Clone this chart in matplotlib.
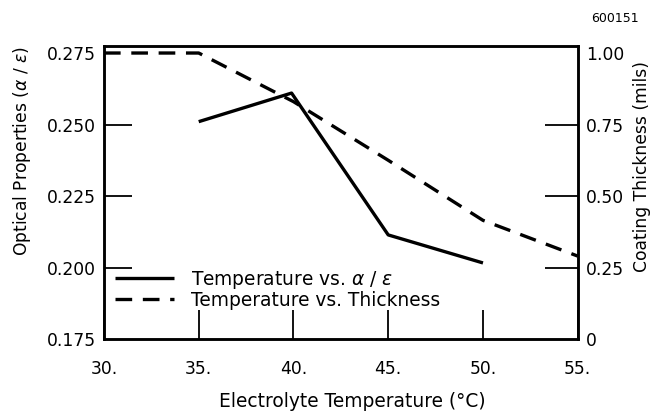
import matplotlib.pyplot as plt

plt.rcParams['font.family'] = ['DejaVu Sans']
plt.rcParams['mathtext.fontset'] = 'dejavusans'

# Dados
temp_opt = [35, 39.9, 45, 50]
alpha_eps = [0.251, 0.261, 0.2114, 0.2016]

temp_esp = [30, 35, 40, 45, 50, 55]
espessura = [1.00, 1.00, 0.83, 0.625, 0.415, 0.29]

x_ticks = [30, 35, 40, 45, 50, 55]
x_labels = ['30.', '35.', '40.', '45.', '50.', '55.']
y_ticks = [0.175, 0.200, 0.225, 0.250, 0.275]
y_labels = ['0.175', '0.200', '0.225', '0.250', '0.275']
y2_ticks = [0, 0.25, 0.50, 0.75, 1.00]
y2_labels = ['0', '0.25', '0.50', '0.75', '1.00']

fs = 12.3      # números dos eixos
fs_lab = 13.4  # título do eixo x e legenda

fig = plt.figure(figsize=(6.58, 4.17), dpi=100)
ax = fig.add_axes([0.158, 0.187, 0.720, 0.703])
ax2 = ax.twinx()

y_min, y_max = 0.175, 0.2775
ax.set_xlim(30, 55)
ax.set_ylim(y_min, y_max)
ax2.set_ylim(0, (y_max - y_min) * 10)

l1, = ax.plot(temp_opt, alpha_eps, color='black', lw=2.4, solid_capstyle='butt')
l2, = ax2.plot(temp_esp, espessura, color='black', lw=2.4, dashes=(5, 3.2))

ax.set_xticks(x_ticks)
ax.set_xticklabels(x_labels, fontsize=fs)
ax.set_yticks(y_ticks)
ax.set_yticklabels(y_labels, fontsize=fs)
ax2.set_yticks(y2_ticks)
ax2.set_yticklabels(y2_labels, fontsize=fs)

ax.tick_params(axis='x', direction='in', length=21, width=1.3, pad=15)
ax.tick_params(axis='y', direction='in', length=20, width=1.3, pad=6)
ax2.tick_params(axis='y', direction='in', length=24, width=1.3, pad=6)

# sem marcas nas pontas dos eixos
for t in ax.yaxis.get_major_ticks() + ax2.yaxis.get_major_ticks():
    if t.get_loc() in (0.275, 0.175, 0, 1.00):
        t.tick1line.set_visible(False)
        t.tick2line.set_visible(False)

for a in (ax, ax2):
    for s in a.spines.values():
        s.set_linewidth(1.8)

ax.set_xlabel('Electrolyte Temperature (°C)', fontsize=fs_lab)
ax.xaxis.set_label_coords(0.5235, -0.182)
ax.set_ylabel(r'Optical Properties ($\alpha$ / $\epsilon$)', fontsize=fs)
ax.yaxis.set_label_coords(-0.149, 0.64)
ax2.set_ylabel('Coating Thickness (mils)', fontsize=fs)
ax2.yaxis.set_label_coords(1.116, 0.587)

ax.legend([l1, l2], [r'Temperature vs. $\alpha$ / $\epsilon$', 'Temperature vs. Thickness'],
          loc='upper left', bbox_to_anchor=(0.023, 0.240), frameon=False, fontsize=fs_lab,
          handlelength=3.2, handletextpad=0.9, labelspacing=0.0, borderaxespad=0.0,
          borderpad=0.0)

fig.text(0.97, 0.955, '600151', fontsize=9, ha='right', va='center')

fig.savefig('out.png', dpi=100)
